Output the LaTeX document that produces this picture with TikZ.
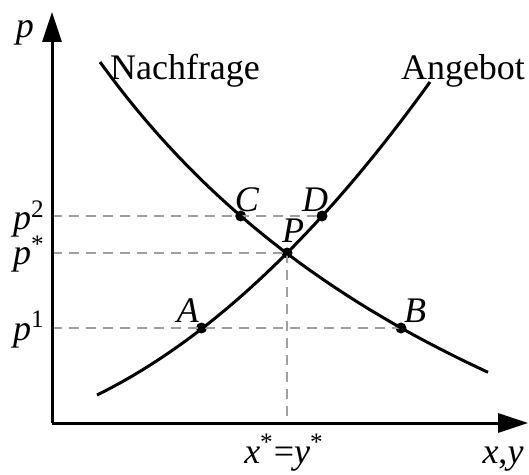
\documentclass[tikz,border=0pt]{standalone}
\usepackage{fontspec}
\setmainfont{Liberation Serif}
\usetikzlibrary{arrows.meta}
\begin{document}
\begin{tikzpicture}[x=0.5pt,y=-0.5pt,
  axis/.style={line width=1.5pt,-{Triangle[length=15pt,width=9.5pt]}},
  curve/.style={line width=1.5pt},
  guide/.style={gray!75,line width=1pt,dash pattern=on 5pt off 3.5pt},
  dot/.style={circle,fill=black,inner sep=0pt,minimum size=5.5pt},
  lbl/.style={font=\fontsize{18}{20}\selectfont,inner sep=0pt}]
\useasboundingbox (0,0) rectangle (529,475);
% axes
\coordinate (O) at (52,423);
\coordinate (ytip) at (52,12);
\coordinate (xtip) at (528,423);
\coordinate (yP2) at (52,216);
\coordinate (yPs) at (52,253);
\coordinate (yP1) at (52,328);
\coordinate (xs) at (287,423);
% points
\node[dot] (C) at (240.7,216) {};
\node[dot] (D) at (322,216) {};
\node[dot] (P) at (287,253) {};
\node[dot] (A) at (201.5,328) {};
\node[dot] (B) at (401,328) {};
% guides
\draw[guide] (yP2) -- (D.center);
\draw[guide] (yPs) -- (P.center);
\draw[guide] (yP1) -- (B.center);
\draw[guide] (P.center) -- (xs);
% curves
\draw[curve] plot[domain=100:488,samples=80,smooth] (\x,{796-389/((\x+430)/1000)});
\draw[curve] plot[domain=97:430,samples=80,smooth] (\x,{395-0.7474*(\x-97)-13.465*((\x-97)/100)*((\x-287)/100)});
\draw[axis] (O) -- (ytip);
\draw[axis] (O) -- (xtip);
% labels
\node[lbl,anchor=base] (lp) at (25,38) {\textit{p}};
\node[lbl,anchor=base east] (lp2) at (45,230) {\textit{p}\textsuperscript{2}};
\node[lbl,anchor=base east] (lps) at (45,265) {\textit{p}\textsuperscript{*}};
\node[lbl,anchor=base east] (lp1) at (45,340) {\textit{p}\textsuperscript{1}};
\node[lbl,anchor=base] (lxs) at (284,463) {\textit{x}\textsuperscript{*}=\textit{y}\textsuperscript{*}};
\node[lbl,anchor=base] (lxy) at (503,463) {\textit{x},\textit{y}};
\node[lbl,anchor=base] (lN) at (185,80) {Nachfrage};
\node[lbl,anchor=base] (lA) at (463,80) {Angebot};
\node[lbl,anchor=base] at (247,212) {\textit{C}};
\node[lbl,anchor=base] at (315,212) {\textit{D}};
\node[lbl,anchor=base] at (293,243) {\textit{P}};
\node[lbl,anchor=base] at (188,322) {\textit{A}};
\node[lbl,anchor=base] at (415,322) {\textit{B}};
\end{tikzpicture}
\end{document}
